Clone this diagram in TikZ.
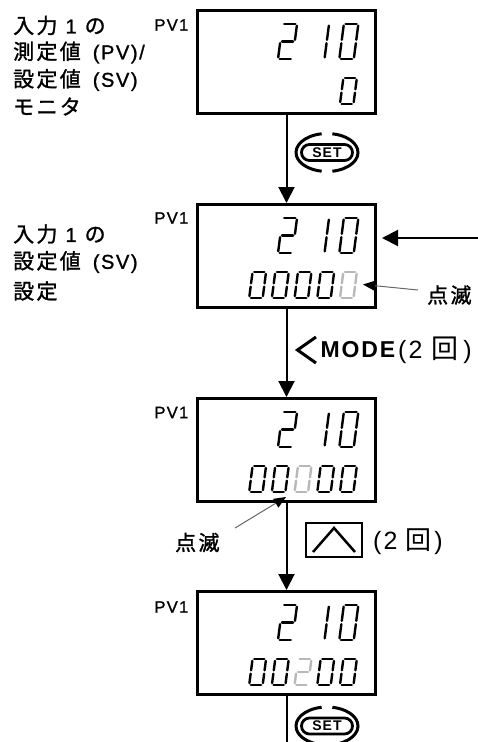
\documentclass[tikz,border=0pt]{standalone}
\usepackage{fontspec}
\setmainfont[LetterSpace=8]{Liberation Sans}
\newfontfamily\jp[LetterSpace=11,FakeBold=1.3]{Noto Sans CJK JP}
\newfontfamily\jpr[LetterSpace=11]{Noto Sans CJK JP}
\newfontfamily\lsm[LetterSpace=8,FakeBold=1.2]{Liberation Sans}
\usetikzlibrary{arrows.meta}
\newcommand\la[1]{{\lsm\fontsize{20pt}{24pt}\selectfont #1}}
\newcommand\jb[1]{{\jp #1}}
\tikzset{
  box/.style={draw, line width=3pt, minimum width=178pt, minimum height=103pt, inner sep=0pt},
  conn/.style={line width=2pt, -{Triangle[width=16pt,length=16pt]}},
  pointer/.style={line width=1pt, draw=black!60, -{Triangle[width=10pt,length=12pt,color=black]}},
  seg/.style={line width=2.4pt, line cap=round, shorten <=1.7pt, shorten >=1.7pt},
  lab/.style={anchor=west, inner sep=0pt, font=\fontsize{21pt}{26pt}\selectfont},
  pvlab/.style={anchor=east, inner sep=0pt, font=\lsm\fontsize{16.5pt}{19pt}\selectfont},
  setkey/.style={draw, line width=2.8pt, rounded corners=8pt, minimum width=51pt, minimum height=16pt, inner sep=0pt, font=\bfseries\fontsize{14pt}{14pt}\selectfont},
  setring/.style={line width=3pt},
  modelab/.style={anchor=west, inner sep=0pt, font=\bfseries\fontsize{23pt}{26pt}\selectfont},
  cntlab/.style={anchor=west, inner sep=0pt, font=\fontsize{25pt}{28pt}\selectfont},
  upkey/.style={draw, line width=1.6pt, minimum width=56.5pt, minimum height=34.5pt, inner sep=0pt},
  chev/.style={line width=3pt, miter limit=10}
}
\pgfkeys{/segs/.is family,
 /segs/a/.code={\draw[seg] (sTL)--(sTR);},
 /segs/b/.code={\draw[seg] (sTR)--(sMR);},
 /segs/c/.code={\draw[seg] (sMR)--(sBR);},
 /segs/d/.code={\draw[seg] (sBL)--(sBR);},
 /segs/e/.code={\draw[seg] (sML)--(sBL);},
 /segs/f/.code={\draw[seg] (sTL)--(sML);},
 /segs/g/.code={\draw[seg] (sML)--(sMR);}}
\definecolor{dimgrey}{HTML}{B8B8B8}
% #1 x of bottom-left, #2 y of bottom, #3 width, #4 height, #5 segments, #6 colour
\newcommand\segdigit[6]{%
 \begin{scope}[shift={(#1,#2)}, color=#6]
  \pgfmathsetmacro\dS{0.13*#4}
  \coordinate (sBL) at (0,0);
  \coordinate (sBR) at (#3,0);
  \coordinate (sML) at (0.5*\dS,-0.5*#4);
  \coordinate (sMR) at (#3+0.5*\dS,-0.5*#4);
  \coordinate (sTL) at (\dS,-#4);
  \coordinate (sTR) at (#3+\dS,-#4);
  \pgfkeys{/segs/.cd,#5}
 \end{scope}}
% top row 210 for a box whose top edge is at #1
\newcommand\toprow[1]{%
  \segdigit{278}{#1+50}{14.5}{35}{a,b,g,e,d}{black}
  \segdigit{324.5}{#1+50}{14.5}{35}{e,f}{black}
  \segdigit{339.3}{#1+50}{14.5}{35}{a,b,c,d,e,f}{black}}
\newcommand\lowdigit[4]{% box top, index, segments, colour
  \segdigit{249.2+22.7*#2}{#1+94.8}{13.5}{25.6}{#3}{#4}}
\begin{document}
\begin{tikzpicture}[x=1pt,y=-1pt]
\useasboundingbox (0,0) rectangle (478,742);

% boxes
\node[box] (b1) at (286.5,62) {};
\node[box] (b2) at (286.5,256) {};
\node[box] (b3) at (286.5,450) {};
\node[box] (b4) at (286.5,643) {};

% digits box 1
\toprow{9}
\lowdigit{9}{4}{a,b,c,d,e,f}{black}
% digits box 2
\toprow{203}
\lowdigit{203}{0}{a,b,c,d,e,f}{black}
\lowdigit{203}{1}{a,b,c,d,e,f}{black}
\lowdigit{203}{2}{a,b,c,d,e,f}{black}
\lowdigit{203}{3}{a,b,c,d,e,f}{black}
\lowdigit{203}{4}{a,b,c,d,e,f}{dimgrey}
% digits box 3
\toprow{397}
\lowdigit{397}{0}{a,b,c,d,e,f}{black}
\lowdigit{397}{1}{a,b,c,d,e,f}{black}
\lowdigit{397}{2}{a,b,c,d,e,f}{dimgrey}
\lowdigit{397}{3}{a,b,c,d,e,f}{black}
\lowdigit{397}{4}{a,b,c,d,e,f}{black}
% digits box 4
\toprow{590}
\lowdigit{590}{0}{a,b,c,d,e,f}{black}
\lowdigit{590}{1}{a,b,c,d,e,f}{black}
\lowdigit{590}{2}{a,b,g,e,d}{dimgrey}
\lowdigit{590}{3}{a,b,c,d,e,f}{black}
\lowdigit{590}{4}{a,b,c,d,e,f}{black}

% PV1 labels
\node[pvlab] (pv1) at (188.5,25) {PV1};
\node[pvlab] (pv2) at (188.5,218) {PV1};
\node[pvlab] (pv3) at (188.5,412.5) {PV1};
\node[pvlab] (pv4) at (188.5,607) {PV1};

% left labels
\node[lab] (t1a) at (13,25.5) {\jb{入力}\hspace{8pt}\la{1}\hspace{8pt}\jb{の}};
\node[lab] (t1b) at (13,52.5) {\jb{測定値}\hspace{12pt}\la{(PV)/}};
\node[lab] (t1c) at (13,80) {\jb{設定値}\hspace{12pt}\la{(SV)}};
\node[lab] (t1d) at (13,106.5) {\jb{モニタ}};
\node[lab] (t2a) at (13,234) {\jb{入力}\hspace{8pt}\la{1}\hspace{8pt}\jb{の}};
\node[lab] (t2b) at (13,262) {\jb{設定値}\hspace{12pt}\la{(SV)}};
\node[lab] (t2c) at (13,291) {\jb{設定}};

% connectors
\draw[conn] (b1.south) -- (b2.north);
\draw[conn] (b2.south) -- (b3.north);
\draw[conn] (b3.south) -- (b4.north);
\coordinate (bend) at (286.5,746);
\draw[line width=2pt] (b4.south) -- (bend);
\coordinate (rin) at (480,238);
\draw[conn, shorten >=5pt] (rin) -- (rin -| b2.east);

% SET keys
\node[setkey] (set1) at (327,152.5) {SET};
\draw[setring] ([shift={(100:31pt and 19pt)}]set1.center) arc[start angle=100,end angle=260,x radius=31pt,y radius=19pt];
\draw[setring] ([shift={(-80:31pt and 19pt)}]set1.center) arc[start angle=-80,end angle=80,x radius=31pt,y radius=19pt];
\node[setkey] (set2) at (327,726) {SET};
\draw[setring] ([shift={(100:31pt and 19pt)}]set2.center) arc[start angle=100,end angle=260,x radius=31pt,y radius=19pt];
\draw[setring] ([shift={(-80:31pt and 19pt)}]set2.center) arc[start angle=-80,end angle=80,x radius=31pt,y radius=19pt];

% MODE key
\draw[chev] (316,337) -- (297.5,350) -- (316,363);
\node[modelab] (mode) at (320.5,350) {MODE};
\node[cntlab] (cnt1) at (398,350) {(\hspace{2pt}2\hspace{9pt}{\jpr\fontsize{27pt}{28pt}\selectfont 回}\hspace{5pt})};

% up key
\node[upkey] (up) at (334,540) {};
\draw[line width=2.5pt] ([shift={(-21pt,-12pt)}]up.center) -- ([shift={(0pt,12pt)}]up.center) -- ([shift={(21pt,-12pt)}]up.center);
\node[cntlab] (cnt2) at (373,542) {(\hspace{2pt}2\hspace{8pt}{\jpr\fontsize{26pt}{28pt}\selectfont 回}\hspace{3pt})};

% blinking pointers
\node[lab] (n2) at (427,295) {\jb{点滅}};
\coordinate (p2s) at (418,290);
\coordinate (p2e) at (363,284.5);
\draw[pointer] (p2s) -- (p2e);
\node[lab] (n3) at (175,542.5) {\jb{点滅}};
\coordinate (p3s) at (235,528);
\coordinate (p3e) at (286,497);
\draw[pointer] (p3s) -- (p3e);
\end{tikzpicture}
\end{document}
